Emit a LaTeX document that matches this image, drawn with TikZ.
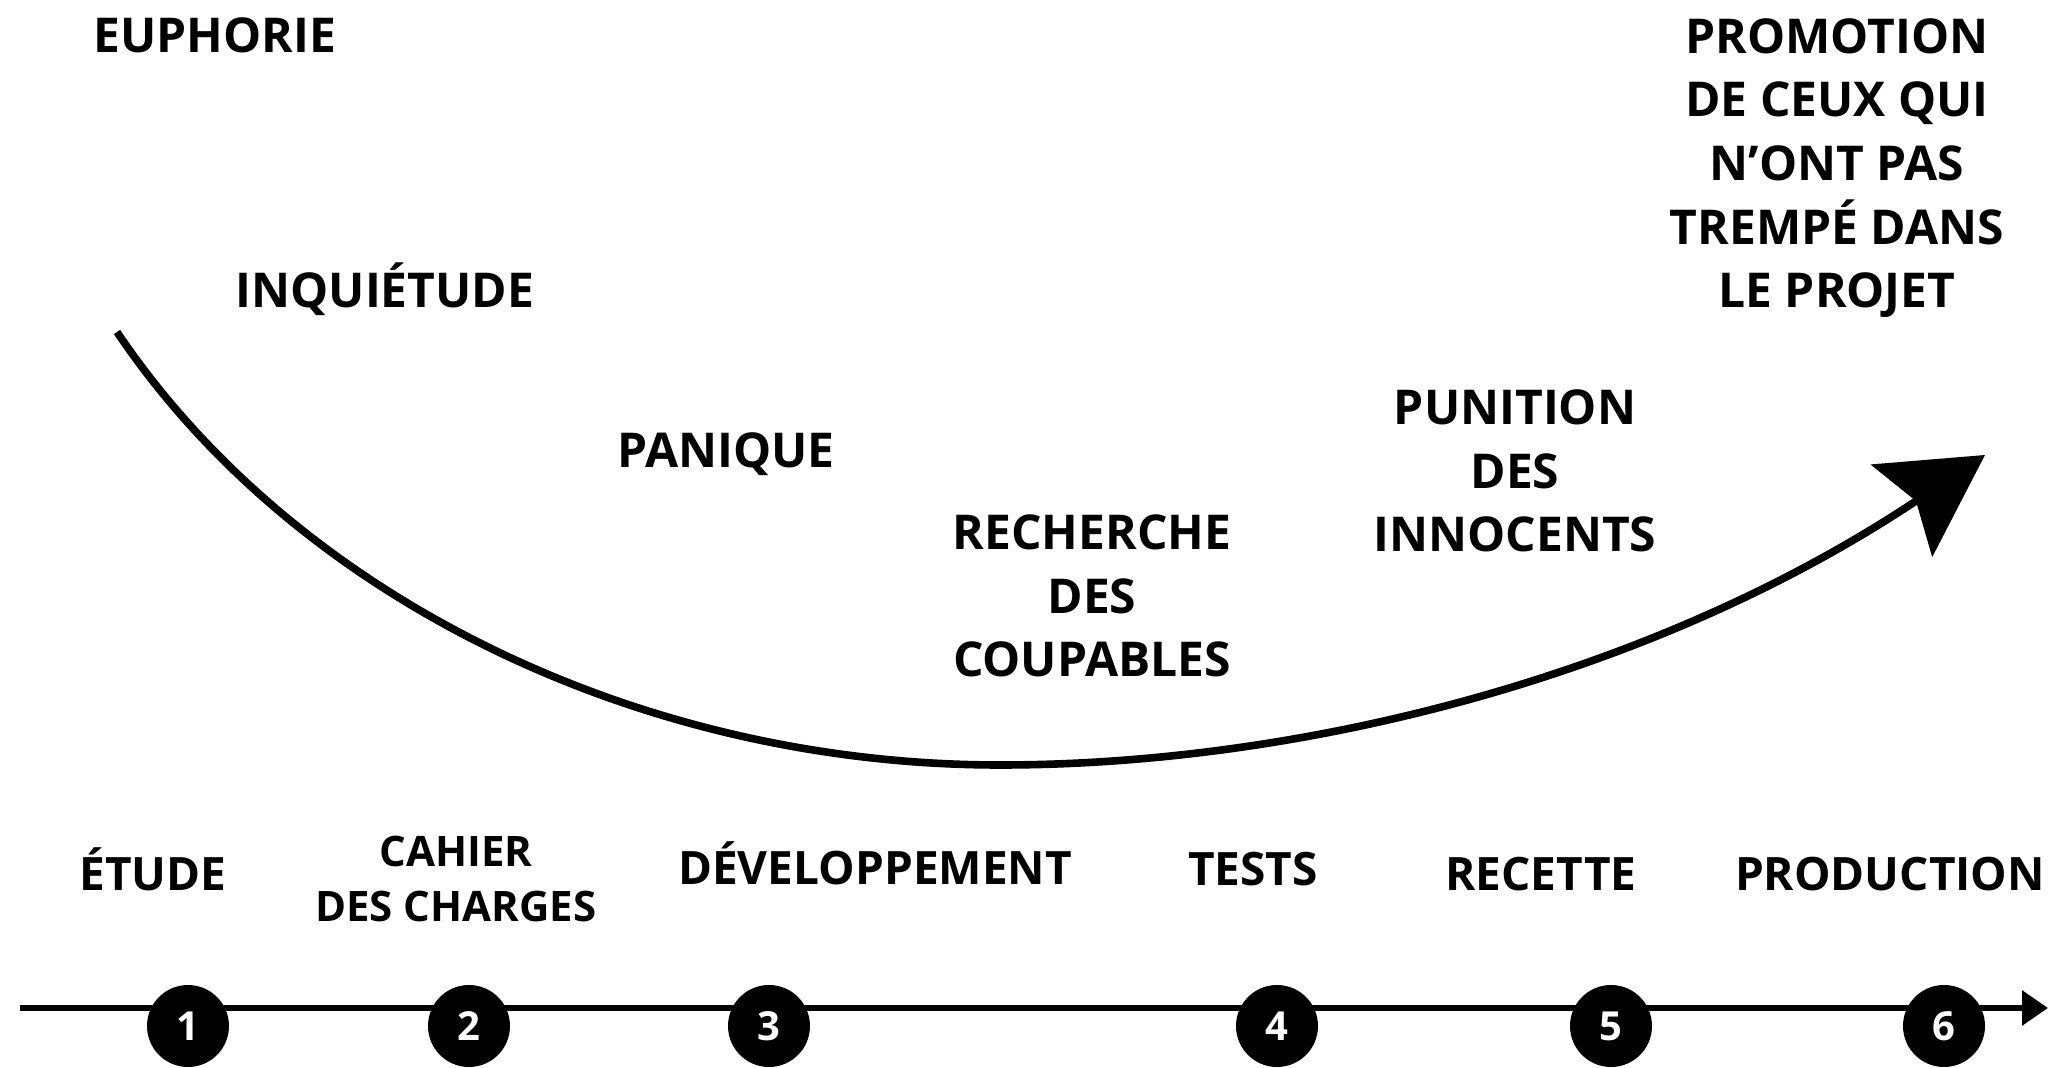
\documentclass[tikz,border=0pt]{standalone}
\usepackage{fontspec}
\setmainfont{Open Sans}
\usetikzlibrary{arrows.meta}
\begin{document}
\begin{tikzpicture}[x=0.5pt,y=-0.5pt,
  lbl/.style={font=\fontsize{24}{31.85}\selectfont\bfseries, align=center, inner sep=0pt, anchor=base},
  phase/.style={font=\fontsize{23}{27.5}\selectfont\bfseries, align=center, inner sep=0pt, anchor=base},
  small/.style={font=\fontsize{21}{27.5}\selectfont\bfseries, align=center, inner sep=0pt, anchor=base},
  num/.style={circle, fill=black, minimum size=41pt, inner sep=0pt, text=white, font=\fontsize{20}{20}\selectfont\bfseries},
  curve/.style={line width=3.8pt, -{Stealth[length=50pt, width=55pt, inset=8.5pt]}},
  axis/.style={line width=3pt, -{Triangle[length=13pt, width=17pt]}}]
\useasboundingbox (0,0) rectangle (2053,1068);

% mood labels (base = baseline of last line)
\node[lbl] (euph) at (215,53) {EUPHORIE};
\node[lbl] (inq) at (385,308) {INQUIÉTUDE};
\node[lbl] (pan) at (726,468) {PANIQUE};
\node[lbl] (rech) at (1092,677) {RECHERCHE\\DES\\COUPABLES};
\node[lbl] (pun) at (1515,552) {PUNITION\\DES\\INNOCENTS};
\node[lbl] (prom) at (1837,308) {PROMOTION\\DE CEUX QUI\\N’ONT PAS\\TREMPÉ DANS\\LE PROJET};

% curve
\coordinate (cstart) at (117,332);
\coordinate (cbot) at (1000,765);
\coordinate (cend) at (1985,455);
\draw[curve] (cstart) .. controls (296,598) and (640,765) .. (cbot)
  .. controls (1300,765) and (1652,677) .. (cend);

% phases
\node[phase] (p1) at (153,891) {ÉTUDE};
\node[small] (p2) at (456,922) {CAHIER\\DES CHARGES};
\node[phase] (p3) at (875,885) {DÉVELOPPEMENT};
\node[phase] (p4) at (1253,886) {TESTS};
\node[phase] (p5) at (1541,891) {RECETTE};
\node[phase] (p6) at (1890,891) {PRODUCTION};

% timeline
\coordinate (tstart) at (20,1008);
\coordinate (tend) at (2048,1008);
\draw[axis] (tstart) -- (tend);
\node[num] (c1) at (188,1026) {1};
\node[num] (c2) at (469,1026) {2};
\node[num] (c3) at (769,1026) {3};
\node[num] (c4) at (1277,1026) {4};
\node[num] (c5) at (1611,1026) {5};
\node[num] (c6) at (1944,1026) {6};
\end{tikzpicture}
\end{document}
